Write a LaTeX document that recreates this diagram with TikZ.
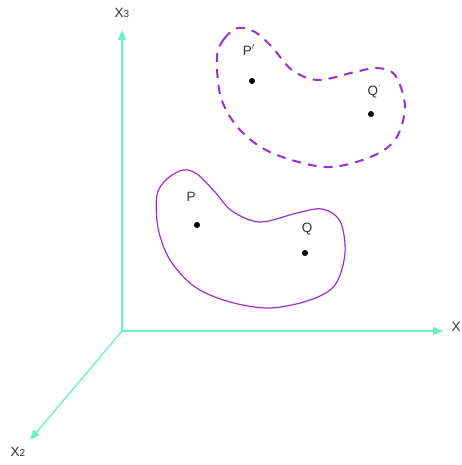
\documentclass[tikz,border=0pt]{standalone}
\usepackage{fontspec}
\setmainfont{Liberation Sans}
\usetikzlibrary{arrows.meta}
\definecolor{axiscol}{HTML}{6CF0C2}
\definecolor{blobcol}{HTML}{9B30D0}
\definecolor{txtcol}{HTML}{333333}
\begin{document}
\begin{tikzpicture}[x=1pt,y=-1pt,
  axis/.style={draw=axiscol,line width=1.3pt,-{Triangle[length=10pt,width=8pt]}},
  lbl/.style={text=txtcol,font=\fontsize{13.5}{13.5}\selectfont,inner sep=0pt},
  blob/.style={draw=blobcol,line width=1.2pt},
  dblob/.style={draw=blobcol,line width=2pt,dash pattern=on 9pt off 7pt},
  pt/.style={circle,fill=black,inner sep=0pt,minimum size=6pt}]
\useasboundingbox (0,0) rectangle (462,465);
\coordinate (O) at (122,331);
\coordinate (E3) at (122,30);
\coordinate (E1) at (443,331);
\coordinate (E2) at (30,440);
\draw[axis] (O) -- (E3);
\draw[axis] (O) -- (E1);
\draw[axis] (O) -- (E2);
\node[lbl] (l3) at (122,13) {X\fontsize{10}{10}\selectfont 3};
\node[lbl] (l1) at (456,327) {X};
\node[lbl] (l2) at (18,452) {X\fontsize{10}{10}\selectfont 2};
% solid region
\draw[blob] plot[smooth cycle,tension=0.55] coordinates {
 (157,195) (167,179) (183,170) (197,174) (215,192) (232,211) (260,222)
 (297,213) (322,209) (340,221) (345,253) (335,285) (310,300)
 (270,308) (230,302) (195,287) (170,260) (158,228)};
% dashed region
\draw[dblob] plot[smooth cycle,tension=0.55] coordinates {
 (217,57) (224,39) (238,28) (255,32) (272,47) (292,70) (318,80)
 (355,72) (377,68) (395,75) (405,107) (395,140) (368,158)
 (325,167) (272,153) (240,130) (221,98)};
\node[pt] (P) at (197,225) {};
\node[pt] (Q) at (305,253) {};
\node[pt] (Pp) at (252,81) {};
\node[pt] (Qp) at (371,114) {};
\node[lbl] (lP) at (191,197) {P};
\node[lbl] (lQ) at (307,229) {Q};
\node[lbl] (lPp) at (249,50) {P$'$};
\node[lbl] (lQp) at (374,92) {Q\raisebox{2pt}{\fontsize{9}{9}\selectfont\'{}}};
\end{tikzpicture}
\end{document}
